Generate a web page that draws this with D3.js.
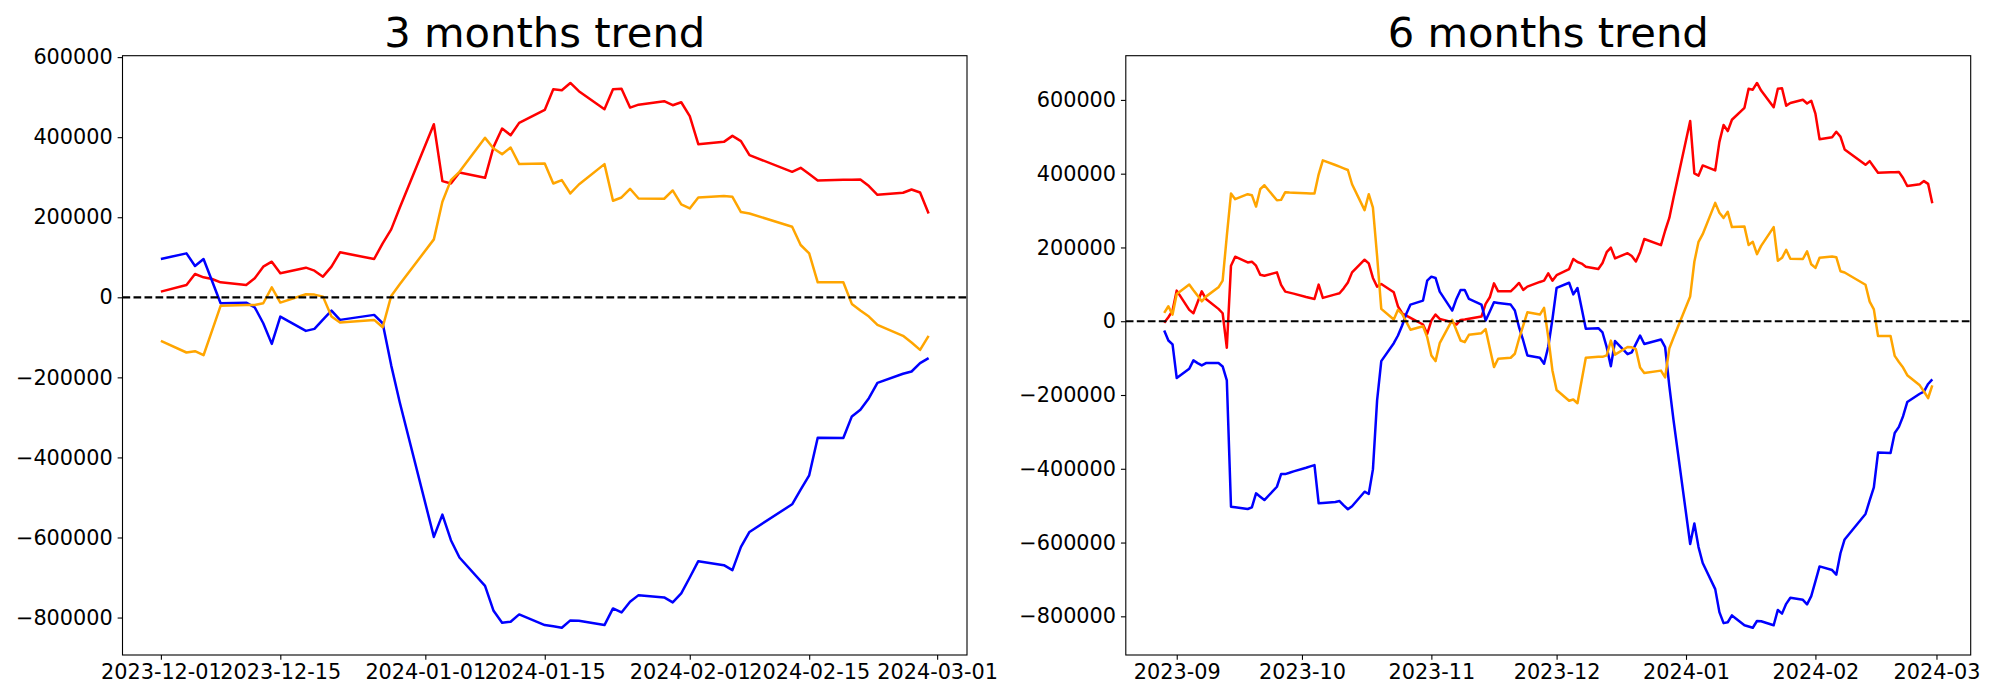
<!DOCTYPE html>
<html><head><meta charset="utf-8">
<script src="https://cdn.jsdelivr.net/npm/d3@7"></script>
<style>
body{margin:0;background:#fff}
svg{display:block}
text{font-family:"DejaVu Sans",sans-serif;fill:#000}
</style>
</head><body>
<svg id="chart" width="2000" height="700"></svg>
<script>
// ---------- data: 3 months ----------
const dates3m = [
"2023-12-01",
"2023-12-04","2023-12-05","2023-12-06","2023-12-07","2023-12-08",
"2023-12-11","2023-12-12","2023-12-13","2023-12-14","2023-12-15",
"2023-12-18","2023-12-19","2023-12-20","2023-12-21","2023-12-22",
"2023-12-26","2023-12-27","2023-12-28","2023-12-29",
"2024-01-02","2024-01-03","2024-01-04","2024-01-05",
"2024-01-08","2024-01-09","2024-01-10","2024-01-11","2024-01-12",
"2024-01-15","2024-01-16","2024-01-17","2024-01-18","2024-01-19",
"2024-01-22","2024-01-23","2024-01-24","2024-01-25","2024-01-26",
"2024-01-29","2024-01-30","2024-01-31","2024-02-01","2024-02-02",
"2024-02-05","2024-02-06","2024-02-07","2024-02-08",
"2024-02-13","2024-02-14","2024-02-15","2024-02-16",
"2024-02-19","2024-02-20","2024-02-21","2024-02-22","2024-02-23",
"2024-02-26","2024-02-27","2024-02-28","2024-02-29"];

const red3m = [14200, 30900, 58300, 50000, 45800, 37400, 30900, 47400, 76600, 89000, 60000, 74000, 66500, 51600, 76600, 112300, 95700, 134800, 169600, 223700, 432400, 290200, 284300, 311800, 298500, 375800, 421500, 405000, 435700, 468000, 519700, 517300, 535500, 514800, 469900, 519700, 521200, 473900, 481300, 489800, 479900, 487300, 452400, 382600, 388300, 403300, 390100, 355200, 313500, 323500, 307800, 291800, 293500, 293500, 294300, 277800, 256100, 261100, 269400, 261900, 209500];

const blue3m = [95700, 109800, 78300, 95700, 40900, -15000, -13300, -25000, -64800, -116300, -48200, -83900, -78900, -56000, -33300, -56400, -43900, -64800, -170000, -262000, -598600, -542800, -606800, -650000, -720800, -783100, -813000, -810500, -792100, -818800, -822000, -825500, -807100, -808000, -818800, -777200, -787200, -760700, -744000, -749700, -762200, -739800, -700000, -659200, -669100, -681600, -623500, -586100, -517000, -480400, -444700, -350700, -351600, -297500, -280900, -251900, -213600, -191100, -185300, -164600, -152100];

const orange3m = [-108800, -137900, -134700, -144700, -83100, -21400, -19000, -19000, -14900, 24900, -13200, 7500, 6700, 1700, -48100, -63100, -56400, -74800, 3500, 32500, 144700, 238700, 292800, 313500, 398300, 371600, 357600, 374100, 332700, 334000, 284300, 292800, 259400, 281800, 332700, 241200, 249400, 271100, 246900, 246200, 266900, 231900, 222000, 249400, 252900, 251100, 213000, 209500, 176300, 130700, 109700, 37400, 37400, -16500, -33200, -48100, -68800, -96300, -113000, -131200, -96300];

// ---------- data: 6 months ----------
const dates6mEarly = [
"2023-08-29","2023-08-30","2023-08-31","2023-09-01",
"2023-09-04","2023-09-05","2023-09-06","2023-09-07","2023-09-08",
"2023-09-11","2023-09-12","2023-09-13","2023-09-14","2023-09-15",
"2023-09-18","2023-09-19","2023-09-20","2023-09-21","2023-09-22",
"2023-09-25","2023-09-26","2023-09-27","2023-09-28","2023-09-29",
"2023-10-02","2023-10-03","2023-10-04","2023-10-05","2023-10-06",
"2023-10-09","2023-10-10","2023-10-11","2023-10-12","2023-10-13",
"2023-10-16","2023-10-17","2023-10-18","2023-10-19","2023-10-20",
"2023-10-23","2023-10-24","2023-10-25","2023-10-26","2023-10-27",
"2023-10-30","2023-10-31","2023-11-01","2023-11-02","2023-11-03",
"2023-11-06","2023-11-07","2023-11-08","2023-11-09","2023-11-10",
"2023-11-13","2023-11-14","2023-11-15","2023-11-16","2023-11-17",
"2023-11-20","2023-11-21","2023-11-22","2023-11-23","2023-11-24",
"2023-11-27","2023-11-28","2023-11-29","2023-11-30"];
const dates6m = dates6mEarly.concat(dates3m);

const red6m = [-4300, 10800, 28900, 83000,
 30800, 21600, 51400, 81100, 60500,
 33500, 21600, -71900, 150600, 174900,
 159500, 161400, 150600, 126200, 123500,
 132400, 98400, 80300, 77600, 74900,
 65900, 63200, 60500, 99200, 63200,
 72700, 76000, 89200, 105200, 132400,
 166800, 156800, 117300, 93800, 101100,
 78400, 40500, 21600, 15400, 9200,
 -8900, -34100, 1900, 18100, 6500,
 -2700, -9000, 3600, 4500, 6500,
 12600, 46900, 64900, 102700, 81100,
 81100, 91900, 103700, 84900, 93800,
 106500, 110000, 129800, 110000,
 124700, 141400, 168800, 160500, 156300, 147900, 141400, 157900, 187100, 199500, 170500, 184500, 177000, 162100, 187100, 222800, 206200, 245300, 280100, 334200, 542900, 400700, 394800, 422300, 409000, 486300, 532000, 515500, 546200, 578500, 630200, 627800, 646000, 625300, 580400, 630200, 631700, 584400, 591800, 600300, 590400, 597800, 562900, 493100, 498800, 513800, 500600, 465700, 424000, 434000, 418300, 402300, 404000, 404000, 404800, 388300, 366600, 371600, 379900, 372400, 320000];

const blue6m = [-25100, -52200, -63000, -154100,
 -128700, -106200, -113500, -119700, -113500,
 -113500, -122500, -160300, -502800, -504400,
 -509000, -504400, -466600, -475700, -484700,
 -448700, -414400, -414400, -410900, -407100,
 -397300, -393600, -390000, -493600, -492800,
 -490100, -487400, -499000, -509800, -501700,
 -462200, -468400, -401700, -214400, -108100,
 -59500, -38700, -11600, 20000, 45100,
 56000, 110000, 120800, 117300, 80300,
 28900, 60500, 84900, 84900, 60500,
 45100, 1900, 26200, 51400, 49700,
 45100, 28900, -16200, -52200, -92700,
 -98900, -115100, -69200, 5400,
 90200, 104300, 72800, 90200, 35400, -20500, -18800, -30500, -70300, -121800, -53700, -89400, -84400, -61500, -38800, -61900, -49400, -70300, -175500, -267500, -604100, -548300, -612300, -655500, -726300, -788600, -818500, -816000, -797600, -824300, -827500, -831000, -812600, -813500, -824300, -782700, -792700, -766200, -749500, -755200, -767700, -745300, -705500, -664700, -674600, -687100, -629000, -591600, -522500, -485900, -450200, -356200, -357100, -303000, -286400, -257400, -219100, -196600, -190800, -170100, -157600];

const orange6m = [22600, 40500, 18000, 74100,
 99300, 83800, 69400, 54000, 66700,
 91900, 110000, 231600, 346000, 330800,
 344400, 341700, 310800, 357900, 368700,
 328100, 329000, 349800, 348700, 348500,
 346700, 346300, 346000, 398300, 436200,
 423500, 419000, 414600, 410000, 371400,
 301100, 344400, 308100, 176800, 33500,
 4600, 30800, 20000, -1600, -23200,
 -13500, -43200, -92700, -108100, -59500,
 3600, -24300, -52200, -56800, -36800,
 -32400, -21600, -73000, -124300, -101700,
 -99000, -88100, -47600, -11700, 24300,
 18100, 36200, -43200, -133300,
 -186300, -215400, -212200, -222200, -160600, -98900, -96500, -96500, -92400, -52600, -90700, -70000, -70800, -75800, -125600, -140600, -133900, -152300, -74000, -45000, 67200, 161200, 215300, 236000, 320800, 294100, 280100, 296600, 255200, 256500, 206800, 215300, 181900, 204300, 255200, 163700, 171900, 193600, 169400, 168700, 189400, 154400, 144500, 171900, 175400, 173600, 135500, 132000, 98800, 53200, 32200, -40100, -40100, -94000, -110700, -125600, -146300, -173800, -190500, -208700, -173800];

// ---------- tick labels ----------
const yTicks = [-800000, -600000, -400000, -200000, 0, 200000, 400000, 600000];
const xTicks3m = ["2023-12-01","2023-12-15","2024-01-01","2024-01-15","2024-02-01","2024-02-15","2024-03-01"];
const xTicks6m = ["2023-09-01","2023-10-01","2023-11-01","2023-12-01","2024-01-01","2024-02-01","2024-03-01"];

const seriesColors = {red:"#ff0000", blue:"#0000ff", orange:"#ffa500"};

const parse = d3.utcParse("%Y-%m-%d");
const svg = d3.select("#chart");
svg.append("rect").attr("width",2000).attr("height",700).attr("fill","#fff");

const panels = [
  {id:"p3", title:"3 months trend", dates:dates3m,
   series:[["red",red3m],["blue",blue3m],["orange",orange3m]],
   xTicks:xTicks3m, fmt:"%Y-%m-%d", box:{x0:122.5,x1:967,y0:55.7,y1:655}},
  {id:"p6", title:"6 months trend", dates:dates6m,
   series:[["red",red6m],["blue",blue6m],["orange",orange6m]],
   xTicks:xTicks6m, fmt:"%Y-%m", box:{x0:1125.8,x1:1970.7,y0:55.7,y1:655}}
];

const tickLen = 4.86, tickPad = 4.86, fontPx = 20.8;

panels.forEach(p => {
  const b = p.box;
  const dts = p.dates.map(parse);
  const [t0, t1] = d3.extent(dts);
  const span = t1 - t0;
  const x = d3.scaleUtc()
    .domain([new Date(+t0 - 0.05*span), new Date(+t1 + 0.05*span)])
    .range([b.x0, b.x1]);
  const allVals = p.series.flatMap(s => s[1]);
  const [v0, v1] = d3.extent(allVals);
  const vr = v1 - v0;
  const y = d3.scaleLinear().domain([v0 - 0.05*vr, v1 + 0.05*vr]).range([b.y1, b.y0]);

  const g = svg.append("g");
  g.append("clipPath").attr("id","clip-"+p.id)
    .append("rect").attr("x",b.x0).attr("y",b.y0).attr("width",b.x1-b.x0).attr("height",b.y1-b.y0);

  const plot = g.append("g").attr("clip-path","url(#clip-"+p.id+")");
  const line = d3.line().x((d,i)=>x(dts[i])).y(d=>y(d)).curve(d3.curveLinear);
  p.series.forEach(([name, vals]) => {
    plot.append("path").datum(vals)
      .attr("d", line)
      .attr("fill","none")
      .attr("stroke", seriesColors[name])
      .attr("stroke-width", 2.5)
      .attr("stroke-linejoin","round")
      .attr("stroke-linecap","butt");
  });
  // zero reference line
  plot.append("line")
    .attr("x1", b.x0).attr("x2", b.x1)
    .attr("y1", y(0)).attr("y2", y(0))
    .attr("stroke","#000").attr("stroke-width",2.2)
    .attr("stroke-dasharray","7.7,3.3");

  // frame
  g.append("rect").attr("x",b.x0).attr("y",b.y0).attr("width",b.x1-b.x0).attr("height",b.y1-b.y0)
    .attr("fill","none").attr("stroke","#000").attr("stroke-width",1.1);

  // y axis
  const ya = g.append("g").attr("transform",`translate(${b.x0},0)`)
    .call(d3.axisLeft(y).tickValues(yTicks).tickFormat(d3.format("d")).tickSize(tickLen).tickPadding(tickPad));
  ya.select(".domain").remove();
  ya.selectAll("line").attr("stroke","#000").attr("stroke-width",1.1);
  ya.selectAll("text").attr("font-size",fontPx+"px").attr("font-family","DejaVu Sans").attr("fill","#000");

  // x axis
  const xa = g.append("g").attr("transform",`translate(0,${b.y1})`)
    .call(d3.axisBottom(x).tickValues(p.xTicks.map(parse)).tickFormat(d3.utcFormat(p.fmt)).tickSize(tickLen).tickPadding(tickPad));
  xa.select(".domain").remove();
  xa.selectAll("line").attr("stroke","#000").attr("stroke-width",1.1);
  xa.selectAll("text").attr("font-size",fontPx+"px").attr("font-family","DejaVu Sans").attr("fill","#000");

  // title
  g.append("text").attr("x",(b.x0+b.x1)/2).attr("y",b.y0-8.3)
    .attr("text-anchor","middle").attr("font-size","41.7px")
    .text(p.title);
});
</script>
</body></html>
